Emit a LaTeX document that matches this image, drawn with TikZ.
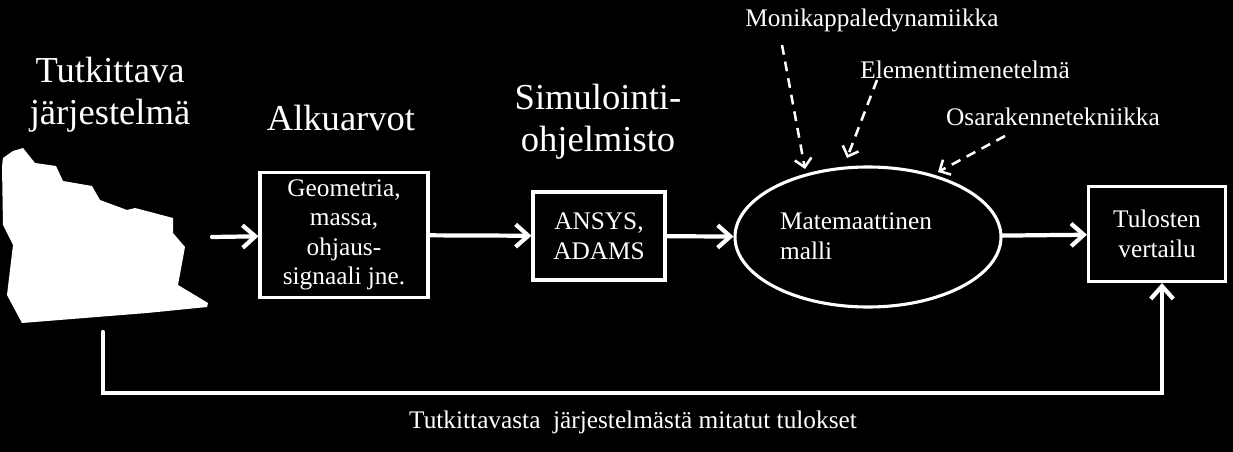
\documentclass[tikz,border=0pt]{standalone}
\usepackage{fontspec}
\setmainfont{Liberation Serif}
\usetikzlibrary{arrows.meta,positioning,shapes.geometric}

\tikzset{
  big/.style={font=\fontsize{26}{30}\selectfont, text=white, align=center},
  small/.style={font=\fontsize{18}{21}\selectfont, text=white, align=center},
  block/.style={draw=white, line width=2.2pt, small},
  flow/.style={draw=white, line width=3pt, line cap=round, -{Straight Barb[length=9pt,width=16pt]}},
  hint/.style={draw=white, line width=1.8pt, dashed, dash pattern=on 7pt off 5pt, -{Straight Barb[length=6pt,width=12pt]}}
}

\begin{document}
\begin{tikzpicture}[x=0.025cm,y=-0.025cm]
        % background
        \fill[black] (0,0) rectangle (1233,452);
        \useasboundingbox (0,0) rectangle (1233,452);

        % system under study
        \node[big] (system) at (110,95) {Tutkittava\\järjestelmä};
        \fill[white] (3,158) -- (13,151) -- (23,148) -- (35,163) -- (56,166) -- (63,181)
            -- (92,186) -- (100,200) -- (127,210) -- (135,208) -- (173,218) -- (173,233)
            -- (185,247) -- (178,285) -- (208,303) -- (207,307) -- (147,313) -- (22,323)
            -- (7,295) -- (13,245) -- (3,225) -- (2,167) -- cycle;
        \coordinate (blobOut) at (212,237);
        \coordinate (blobDown) at (103,332);

        % blocks
        \node[block, minimum width=168*0.025cm, minimum height=125*0.025cm] (init) at (344,235) {Geometria,\\massa,\\ohjaus-\\signaali jne.};
        \node[big] (initTitle) at (341,118) {Alkuarvot};

        \node[block, minimum width=132*0.025cm, minimum height=88*0.025cm] (soft) at (599,236) {ANSYS,\\ADAMS};
        \node[big] (softTitle) at (598,122) {Simulointi-\\ohjelmisto};

        \node[ellipse, draw=white, line width=2.2pt, minimum width=266*0.025cm, minimum height=140*0.025cm] (model) at (868,237) {};
        \node[small, align=left] (modelText) at (856,236) {Matemaattinen\\malli};

        \node[block, minimum width=137*0.025cm, minimum height=95*0.025cm] (result) at (1157,234) {Tulosten\\vertailu};

        % methods
        \node[small] (mbd) at (872,20) {Monikappaledynamiikka};
        \node[small] (fem) at (965,70) {Elementtimenetelmä};
        \node[small] (sub) at (1053,117) {Osarakennetekniikka};

        % arrows
        \draw[flow] (blobOut) -- (init);
        \draw[flow] (init) -- (soft);
        \draw[flow] (soft) -- (model);
        \draw[flow] (model) -- (result);

        \draw[hint] (782,45) -- (805,169);
        \draw[hint] (877,80) -- (847,158);
        \draw[hint] (1005,136) -- (938,172);

        % measured results
        \draw[flow] (blobDown) -- (103,393) -- (1162,393) -- (result.south -| 1162,0);
        \node[small] (measured) at (633,422) {Tutkittavasta\ \ järjestelmästä mitatut tulokset};
    \end{tikzpicture}
\end{document}
